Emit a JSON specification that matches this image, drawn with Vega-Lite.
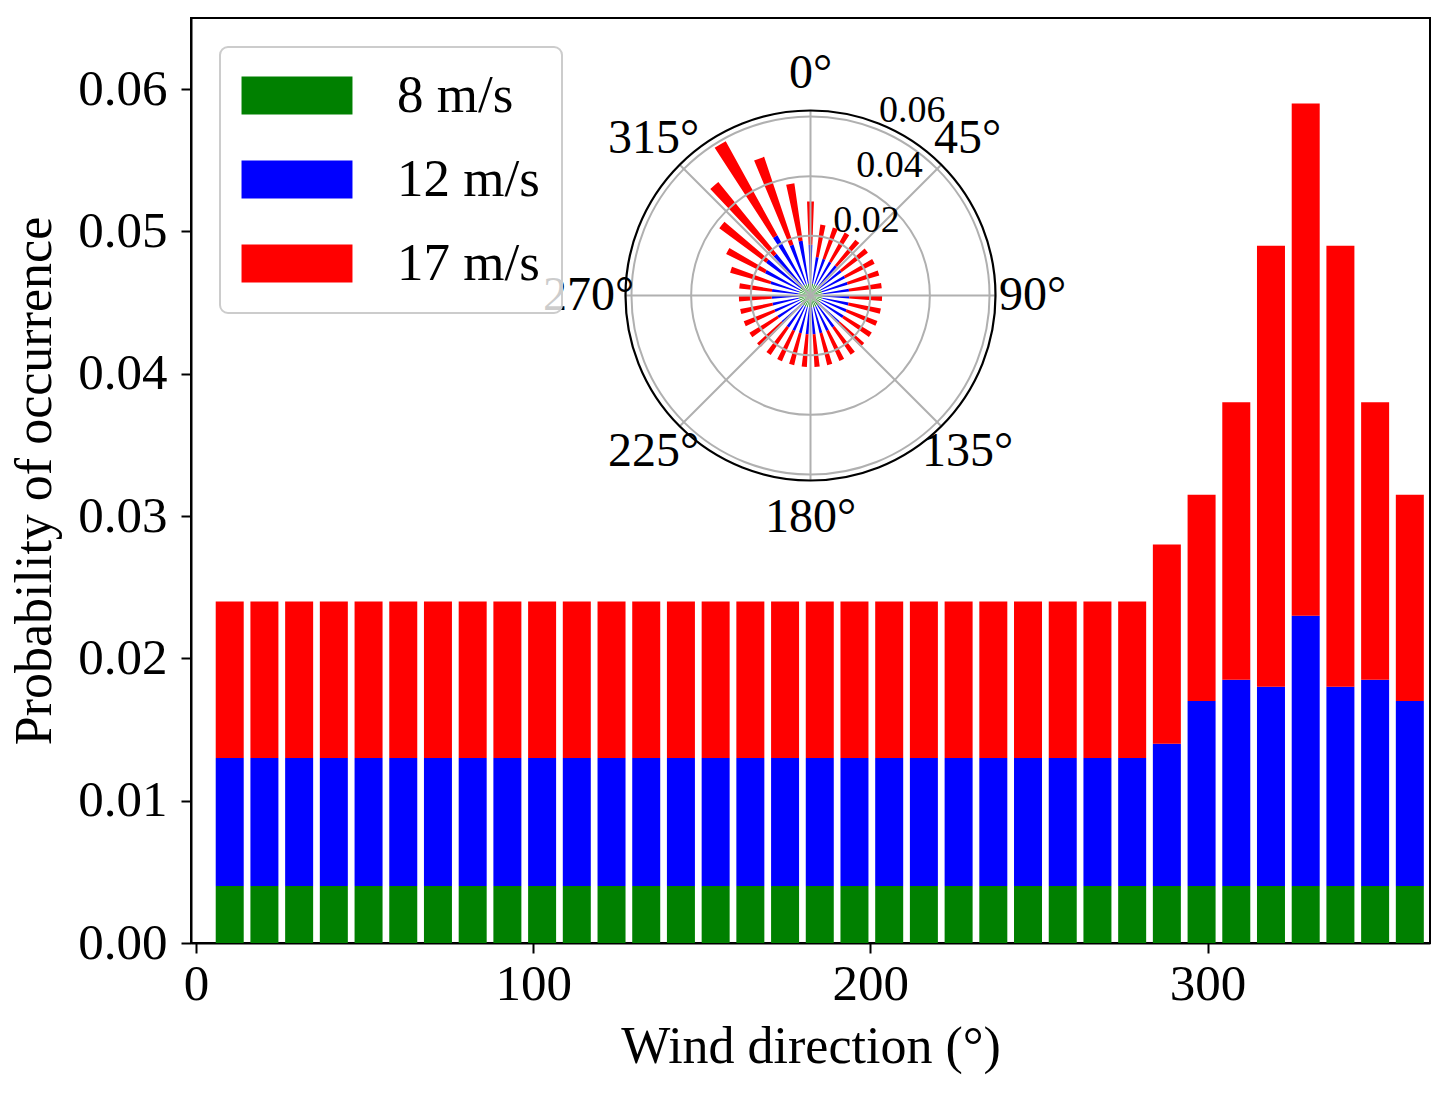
{
  "$schema": "https://vega.github.io/schema/vega-lite/v6.json",
  "width": 1239,
  "height": 925,
  "autosize": {"type": "none"},
  "padding": {"left": 191, "top": 18, "right": 20, "bottom": 156},
  "config": {
    "font": "Liberation Serif",
    "view": {"stroke": "black", "strokeWidth": 2},
    "axis": {
      "domainColor": "black", "domainWidth": 2, "tickColor": "black", "tickWidth": 2, "tickSize": 10,
      "labelFontSize": 51, "titleFontSize": 52, "labelColor": "black", "titleColor": "black",
      "titleFontWeight": "normal", "grid": false
    },
    "legend": {
      "orient": "top-left", "offset": 29, "padding": 22,
      "fillColor": "rgba(255,255,255,0.8)", "strokeColor": "#cccccc", "strokeWidth": 2, "cornerRadius": 8,
      "symbolType": "M-1.42,-1H4.42V1H-1.42Z", "symbolSize": 1444, "symbolStrokeWidth": 0,
      "labelFontSize": 53, "labelColor": "black", "labelOffset": 102, "rowPadding": 30
    }
  },
  "data": {
    "values": [
      {"dir":10,"s":"8 m/s","k":1,"p":0.004},{"dir":10,"s":"12 m/s","k":2,"p":0.009},{"dir":10,"s":"17 m/s","k":3,"p":0.011},
      {"dir":20.29,"s":"8 m/s","k":1,"p":0.004},{"dir":20.29,"s":"12 m/s","k":2,"p":0.009},{"dir":20.29,"s":"17 m/s","k":3,"p":0.011},
      {"dir":30.59,"s":"8 m/s","k":1,"p":0.004},{"dir":30.59,"s":"12 m/s","k":2,"p":0.009},{"dir":30.59,"s":"17 m/s","k":3,"p":0.011},
      {"dir":40.88,"s":"8 m/s","k":1,"p":0.004},{"dir":40.88,"s":"12 m/s","k":2,"p":0.009},{"dir":40.88,"s":"17 m/s","k":3,"p":0.011},
      {"dir":51.18,"s":"8 m/s","k":1,"p":0.004},{"dir":51.18,"s":"12 m/s","k":2,"p":0.009},{"dir":51.18,"s":"17 m/s","k":3,"p":0.011},
      {"dir":61.47,"s":"8 m/s","k":1,"p":0.004},{"dir":61.47,"s":"12 m/s","k":2,"p":0.009},{"dir":61.47,"s":"17 m/s","k":3,"p":0.011},
      {"dir":71.76,"s":"8 m/s","k":1,"p":0.004},{"dir":71.76,"s":"12 m/s","k":2,"p":0.009},{"dir":71.76,"s":"17 m/s","k":3,"p":0.011},
      {"dir":82.06,"s":"8 m/s","k":1,"p":0.004},{"dir":82.06,"s":"12 m/s","k":2,"p":0.009},{"dir":82.06,"s":"17 m/s","k":3,"p":0.011},
      {"dir":92.35,"s":"8 m/s","k":1,"p":0.004},{"dir":92.35,"s":"12 m/s","k":2,"p":0.009},{"dir":92.35,"s":"17 m/s","k":3,"p":0.011},
      {"dir":102.65,"s":"8 m/s","k":1,"p":0.004},{"dir":102.65,"s":"12 m/s","k":2,"p":0.009},{"dir":102.65,"s":"17 m/s","k":3,"p":0.011},
      {"dir":112.94,"s":"8 m/s","k":1,"p":0.004},{"dir":112.94,"s":"12 m/s","k":2,"p":0.009},{"dir":112.94,"s":"17 m/s","k":3,"p":0.011},
      {"dir":123.24,"s":"8 m/s","k":1,"p":0.004},{"dir":123.24,"s":"12 m/s","k":2,"p":0.009},{"dir":123.24,"s":"17 m/s","k":3,"p":0.011},
      {"dir":133.53,"s":"8 m/s","k":1,"p":0.004},{"dir":133.53,"s":"12 m/s","k":2,"p":0.009},{"dir":133.53,"s":"17 m/s","k":3,"p":0.011},
      {"dir":143.82,"s":"8 m/s","k":1,"p":0.004},{"dir":143.82,"s":"12 m/s","k":2,"p":0.009},{"dir":143.82,"s":"17 m/s","k":3,"p":0.011},
      {"dir":154.12,"s":"8 m/s","k":1,"p":0.004},{"dir":154.12,"s":"12 m/s","k":2,"p":0.009},{"dir":154.12,"s":"17 m/s","k":3,"p":0.011},
      {"dir":164.41,"s":"8 m/s","k":1,"p":0.004},{"dir":164.41,"s":"12 m/s","k":2,"p":0.009},{"dir":164.41,"s":"17 m/s","k":3,"p":0.011},
      {"dir":174.71,"s":"8 m/s","k":1,"p":0.004},{"dir":174.71,"s":"12 m/s","k":2,"p":0.009},{"dir":174.71,"s":"17 m/s","k":3,"p":0.011},
      {"dir":185,"s":"8 m/s","k":1,"p":0.004},{"dir":185,"s":"12 m/s","k":2,"p":0.009},{"dir":185,"s":"17 m/s","k":3,"p":0.011},
      {"dir":195.29,"s":"8 m/s","k":1,"p":0.004},{"dir":195.29,"s":"12 m/s","k":2,"p":0.009},{"dir":195.29,"s":"17 m/s","k":3,"p":0.011},
      {"dir":205.59,"s":"8 m/s","k":1,"p":0.004},{"dir":205.59,"s":"12 m/s","k":2,"p":0.009},{"dir":205.59,"s":"17 m/s","k":3,"p":0.011},
      {"dir":215.88,"s":"8 m/s","k":1,"p":0.004},{"dir":215.88,"s":"12 m/s","k":2,"p":0.009},{"dir":215.88,"s":"17 m/s","k":3,"p":0.011},
      {"dir":226.18,"s":"8 m/s","k":1,"p":0.004},{"dir":226.18,"s":"12 m/s","k":2,"p":0.009},{"dir":226.18,"s":"17 m/s","k":3,"p":0.011},
      {"dir":236.47,"s":"8 m/s","k":1,"p":0.004},{"dir":236.47,"s":"12 m/s","k":2,"p":0.009},{"dir":236.47,"s":"17 m/s","k":3,"p":0.011},
      {"dir":246.76,"s":"8 m/s","k":1,"p":0.004},{"dir":246.76,"s":"12 m/s","k":2,"p":0.009},{"dir":246.76,"s":"17 m/s","k":3,"p":0.011},
      {"dir":257.06,"s":"8 m/s","k":1,"p":0.004},{"dir":257.06,"s":"12 m/s","k":2,"p":0.009},{"dir":257.06,"s":"17 m/s","k":3,"p":0.011},
      {"dir":267.35,"s":"8 m/s","k":1,"p":0.004},{"dir":267.35,"s":"12 m/s","k":2,"p":0.009},{"dir":267.35,"s":"17 m/s","k":3,"p":0.011},
      {"dir":277.65,"s":"8 m/s","k":1,"p":0.004},{"dir":277.65,"s":"12 m/s","k":2,"p":0.009},{"dir":277.65,"s":"17 m/s","k":3,"p":0.011},
      {"dir":287.94,"s":"8 m/s","k":1,"p":0.004},{"dir":287.94,"s":"12 m/s","k":2,"p":0.010},{"dir":287.94,"s":"17 m/s","k":3,"p":0.014},
      {"dir":298.24,"s":"8 m/s","k":1,"p":0.004},{"dir":298.24,"s":"12 m/s","k":2,"p":0.013},{"dir":298.24,"s":"17 m/s","k":3,"p":0.0145},
      {"dir":308.53,"s":"8 m/s","k":1,"p":0.004},{"dir":308.53,"s":"12 m/s","k":2,"p":0.0145},{"dir":308.53,"s":"17 m/s","k":3,"p":0.0195},
      {"dir":318.82,"s":"8 m/s","k":1,"p":0.004},{"dir":318.82,"s":"12 m/s","k":2,"p":0.014},{"dir":318.82,"s":"17 m/s","k":3,"p":0.031},
      {"dir":329.12,"s":"8 m/s","k":1,"p":0.004},{"dir":329.12,"s":"12 m/s","k":2,"p":0.019},{"dir":329.12,"s":"17 m/s","k":3,"p":0.036},
      {"dir":339.41,"s":"8 m/s","k":1,"p":0.004},{"dir":339.41,"s":"12 m/s","k":2,"p":0.014},{"dir":339.41,"s":"17 m/s","k":3,"p":0.031},
      {"dir":349.71,"s":"8 m/s","k":1,"p":0.004},{"dir":349.71,"s":"12 m/s","k":2,"p":0.0145},{"dir":349.71,"s":"17 m/s","k":3,"p":0.0195},
      {"dir":360,"s":"8 m/s","k":1,"p":0.004},{"dir":360,"s":"12 m/s","k":2,"p":0.013},{"dir":360,"s":"17 m/s","k":3,"p":0.0145}
    ]
  },
  "transform": [
    {"stack": "p", "groupby": ["dir"], "sort": [{"field": "k", "order": "ascending"}], "as": ["lo", "hi"]}
  ],
  "layer": [
    {
      "mark": {"type": "bar", "width": 28},
      "encoding": {
        "x": {
          "field": "dir", "type": "quantitative",
          "scale": {"domain": [0, 364.5], "nice": false, "zero": false},
          "axis": {"values": [0, 100, 200, 300], "title": "Wind direction (°)", "labelPadding": 6, "titlePadding": 12, "labelFlush": false}
        },
        "y": {
          "field": "hi", "type": "quantitative",
          "scale": {"domain": [0, 0.065], "nice": false},
          "axis": {"values": [0, 0.01, 0.02, 0.03, 0.04, 0.05, 0.06], "format": ".2f", "title": "Probability of occurrence", "labelPadding": 14, "titlePadding": 16}
        },
        "y2": {"field": "lo"},
        "color": {
          "field": "s", "type": "nominal",
          "scale": {"domain": ["8 m/s", "12 m/s", "17 m/s"], "range": ["#008000", "#0000ff", "#ff0000"]},
          "legend": {"title": null, "labelExpr": "datum.label + ' '"}
        }
      }
    },
    {
      "transform": [
        {"calculate": "datum.dir - 2.1", "as": "a0"},
        {"calculate": "datum.dir + 2.1", "as": "a1"}
      ],
      "mark": {"type": "arc"},
      "encoding": {
        "y": {"datum": 0.0455},
        "theta": {"field": "a0", "type": "quantitative", "stack": null, "scale": {"domain": [0, 360], "range": [0, 6.283185307179586]}},
        "theta2": {"field": "a1"},
        "radius": {"field": "hi", "type": "quantitative", "stack": null, "scale": {"type": "linear", "domain": [0, 0.062], "range": [0, 185], "zero": true}},
        "radius2": {"field": "lo"},
        "color": {"field": "s", "type": "nominal"}
      }
    },
    {
      "data": {"values": [{"r": 0.02}, {"r": 0.04}, {"r": 0.06}]},
      "mark": {"type": "arc", "fillOpacity": 0, "stroke": "#b0b0b0", "strokeWidth": 2},
      "encoding": {
        "y": {"datum": 0.0455},
        "theta": {"datum": 0, "type": "quantitative", "stack": null},
        "theta2": {"datum": 360},
        "radius": {"field": "r", "type": "quantitative", "stack": null}
      }
    },
    {
      "data": {"values": [{"a": 0}, {"a": 45}, {"a": 90}, {"a": 135}, {"a": 180}, {"a": 225}, {"a": 270}, {"a": 315}]},
      "mark": {"type": "arc", "fillOpacity": 0, "stroke": "#b0b0b0", "strokeWidth": 2},
      "encoding": {
        "y": {"datum": 0.0455},
        "theta": {"field": "a", "type": "quantitative", "stack": null},
        "theta2": {"field": "a"},
        "radius": {"datum": 0.062, "type": "quantitative", "stack": null}
      }
    },
    {
      "data": {"values": [{"r": 0.062}]},
      "mark": {"type": "arc", "fillOpacity": 0, "stroke": "black", "strokeWidth": 2.2},
      "encoding": {
        "y": {"datum": 0.0455},
        "theta": {"datum": 0, "type": "quantitative", "stack": null},
        "theta2": {"datum": 360},
        "radius": {"field": "r", "type": "quantitative", "stack": null}
      }
    },
    {
      "data": {"values": [
        {"a": 0, "t": "0°"}, {"a": 45, "t": "45°"}, {"a": 90, "t": "90°"}, {"a": 135, "t": "135°"},
        {"a": 180, "t": "180°"}, {"a": 225, "t": "225°"}, {"a": 270, "t": "270°"}, {"a": 315, "t": "315°"}
      ]},
      "mark": {"type": "text", "fontSize": 48, "align": "center", "baseline": "middle", "color": "black"},
      "encoding": {
        "y": {"datum": 0.0455},
        "theta": {"field": "a", "type": "quantitative"},
        "radius": {"datum": 0.0744, "type": "quantitative"},
        "text": {"field": "t"}
      }
    },
    {
      "data": {"values": [{"r": 0.02, "t": "0.02"}, {"r": 0.04, "t": "0.04"}, {"r": 0.06, "t": "0.06"}]},
      "mark": {"type": "text", "fontSize": 38, "align": "left", "baseline": "alphabetic", "dy": -8, "color": "black"},
      "encoding": {
        "y": {"datum": 0.0455},
        "theta": {"datum": 22.5, "type": "quantitative"},
        "radius": {"field": "r", "type": "quantitative"},
        "text": {"field": "t"}
      }
    }
  ]
}
